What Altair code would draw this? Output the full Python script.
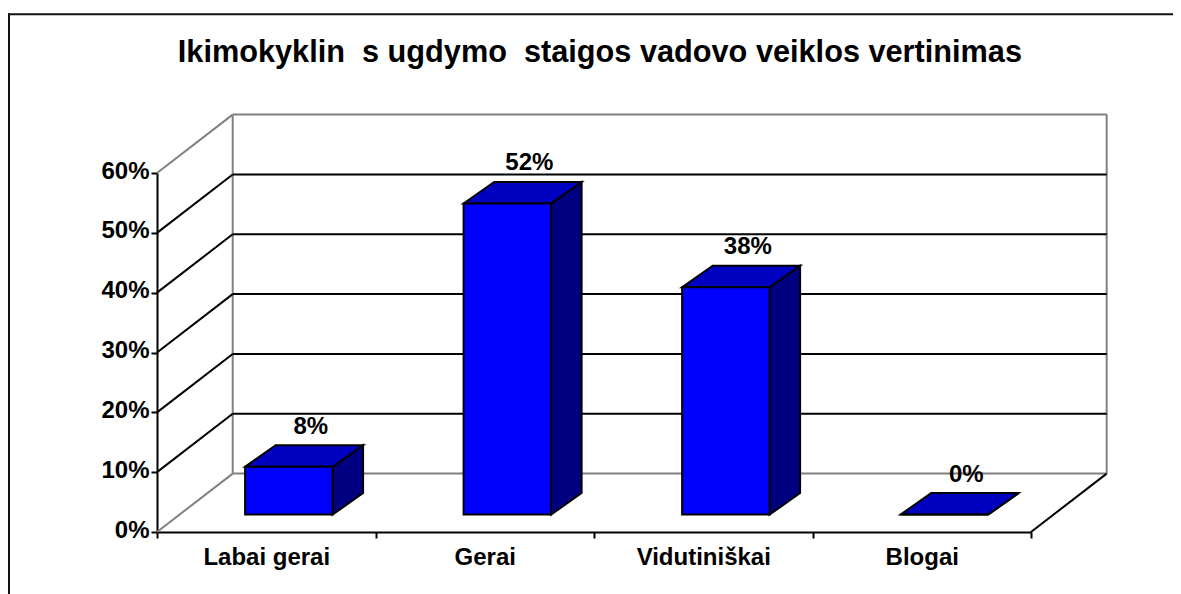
import json
import altair as alt
import pandas as pd

# ---------------- data ----------------
categories = ["Labai gerai", "Gerai", "Vidutiniškai", "Blogai"]
values = [0.08, 0.52, 0.38, 0.0]
tick_values = [0.0, 0.1, 0.2, 0.3, 0.4, 0.5, 0.6]
title_text = "Ikimokyklin\u00a0\u00a0s ugdymo\u00a0\u00a0staigos vadovo veiklos vertinimas"

# ---------------- layout (pixels) ----------------
W, H = 874, 359
PAD = {"left": 149, "top": 165, "right": 142, "bottom": 62}
N = len(categories)
YMAX = max(tick_values)
PX_X = W / N
PX_Y = H / YMAX


def ux(px):
    return px / PX_X


def uy(px):
    return px / PX_Y


WALL_DX, WALL_DY = ux(75.7), uy(58.4)
FRONT_DX, FRONT_DY = ux(22.6), uy(17.4)
BAR_W = ux(87.5)
BAR_DX, BAR_DY = ux(30.5), uy(21.5)
LABEL_DX = ux(22)

GRAY = "#808080"
FONT = "Liberation Sans"
C_FRONT, C_TOP, C_SIDE = "#0000FF", "#0000C0", "#000080"

xs = alt.Scale(domain=[0, N], nice=False, zero=False)
ys = alt.Scale(domain=[0, YMAX], nice=False, zero=False)

label_expr = (
    f"datum.value < {N} ? {json.dumps(categories, ensure_ascii=False)}[datum.value] : ''"
)

x_axis = alt.Axis(
    values=list(range(N + 1)), labelExpr=label_expr, labelOffset=PX_X / 2,
    labelFlush=False, labelOverlap=False, tickSize=6, tickWidth=2,
    tickColor="black", domainColor="black", domainWidth=2, labelFont=FONT,
    labelFontWeight="bold", labelFontSize=24, labelColor="black",
    labelPadding=7, grid=False, title=None,
)
y_axis = alt.Axis(
    values=tick_values, format=".0%", tickSize=6, tickWidth=2,
    tickColor="black", domainColor="black", domainWidth=2, labelFont=FONT,
    labelFontWeight="bold", labelFontSize=24, labelColor="black",
    labelPadding=2, labelOffset=-2, grid=False, title=None,
)


def X(field, **kw):
    return alt.X(field, scale=xs, axis=x_axis, **kw)


def Y(field, **kw):
    return alt.Y(field, scale=ys, axis=y_axis, **kw)


# ---------------- walls ----------------
rules = []
for t in tick_values:
    col = GRAY if t in (min(tick_values), YMAX) else "black"
    rules.append(dict(x=WALL_DX, x2=N + WALL_DX, y=t + WALL_DY, y2=t + WALL_DY, c=col))
    rules.append(dict(x=0, x2=WALL_DX, y=t, y2=t + WALL_DY, c=col))
rules.append(dict(x=WALL_DX, x2=WALL_DX, y=WALL_DY, y2=YMAX + WALL_DY, c=GRAY))
rules.append(dict(x=N + WALL_DX, x2=N + WALL_DX, y=WALL_DY, y2=YMAX + WALL_DY, c=GRAY))
rules.append(dict(x=N, x2=N + WALL_DX, y=0, y2=WALL_DY, c="black"))
rules_df = pd.DataFrame(rules)
rules_df["o"] = (rules_df["c"] == "black").astype(int)
rules_df = rules_df.sort_values("o")

walls = alt.Chart(rules_df).mark_rule(strokeWidth=2).encode(
    x=X("x:Q"),
    x2="x2:Q",
    y=Y("y:Q"),
    y2="y2:Q",
    color=alt.Color("c:N", scale=None),
)

# ---------------- bars ----------------
front, top, side, labels = [], [], [], []
for i, (c, v) in enumerate(zip(categories, values)):
    xl = i + 0.5 + FRONT_DX - BAR_W / 2
    xr = xl + BAR_W
    y0 = FRONT_DY
    yt = v + FRONT_DY
    front.append(dict(cat=c, x=xl, x2=xr, y=y0, y2=yt))
    top.append(dict(cat=c, y=yt, x=xl, x2=xr))
    top.append(dict(cat=c, y=yt + BAR_DY, x=xl + BAR_DX, x2=xr + BAR_DX))
    side.append(dict(cat=c, x=xr, y=yt, y2=y0))
    side.append(dict(cat=c, x=xr + BAR_DX, y=yt + BAR_DY, y2=y0 + BAR_DY))
    labels.append(dict(cat=c, x=i + 0.5 + FRONT_DX + LABEL_DX, y=yt,
                       t=f"{round(v * 100)}%"))

side_layer = alt.Chart(pd.DataFrame(side)).mark_area(
    orient="vertical", fill=C_SIDE, stroke="black", strokeWidth=2, strokeJoin="miter"
).encode(
    x=X("x:Q"),
    y=Y("y:Q", stack=None),
    y2="y2:Q",
    detail="cat:N",
)

top_layer = alt.Chart(pd.DataFrame(top)).mark_area(
    orient="horizontal", fill=C_TOP, stroke="black", strokeWidth=2, strokeJoin="miter"
).encode(
    y=Y("y:Q"),
    x=X("x:Q", stack=None),
    x2="x2:Q",
    detail="cat:N",
)

front_layer = alt.Chart(pd.DataFrame(front)).mark_rect(
    fill=C_FRONT, stroke="black", strokeWidth=2
).encode(
    x=X("x:Q"),
    x2="x2:Q",
    y=Y("y:Q"),
    y2="y2:Q",
)

label_layer = alt.Chart(pd.DataFrame(labels)).mark_text(
    font=FONT, fontWeight="bold", fontSize=24, color="black",
    align="center", baseline="alphabetic", dy=-33,
).encode(
    x=X("x:Q"),
    y=Y("y:Q"),
    text="t:N",
)

# ---------------- frame and title ----------------
frame_df = pd.DataFrame({"k": [0]})
frame_top = alt.Chart(frame_df).mark_rule(stroke="#111111", strokeWidth=2).encode(
    x=alt.value(-149), x2=alt.value(1100), y=alt.value(-158.7)
)
frame_left = alt.Chart(frame_df).mark_rule(stroke="#111111", strokeWidth=2).encode(
    x=alt.value(-148), y=alt.value(-159.7), y2=alt.value(440)
)

title_layer = alt.Chart(pd.DataFrame({"t": [title_text]})).mark_text(
    font=FONT, fontWeight="bold", fontSize=30.7, color="black",
    align="center", baseline="alphabetic",
).encode(x=alt.value(442.9), y=alt.value(-111.3), text="t:N")

chart = alt.layer(
    walls, side_layer, top_layer, front_layer, label_layer,
    frame_top, frame_left, title_layer
).properties(
    width=W, height=H, padding=PAD,
    autosize=alt.AutoSizeParams(type="none"),
    background="white",
).configure_view(stroke=None)

chart.save("out.html", embed_options={"renderer": "svg", "actions": False})
